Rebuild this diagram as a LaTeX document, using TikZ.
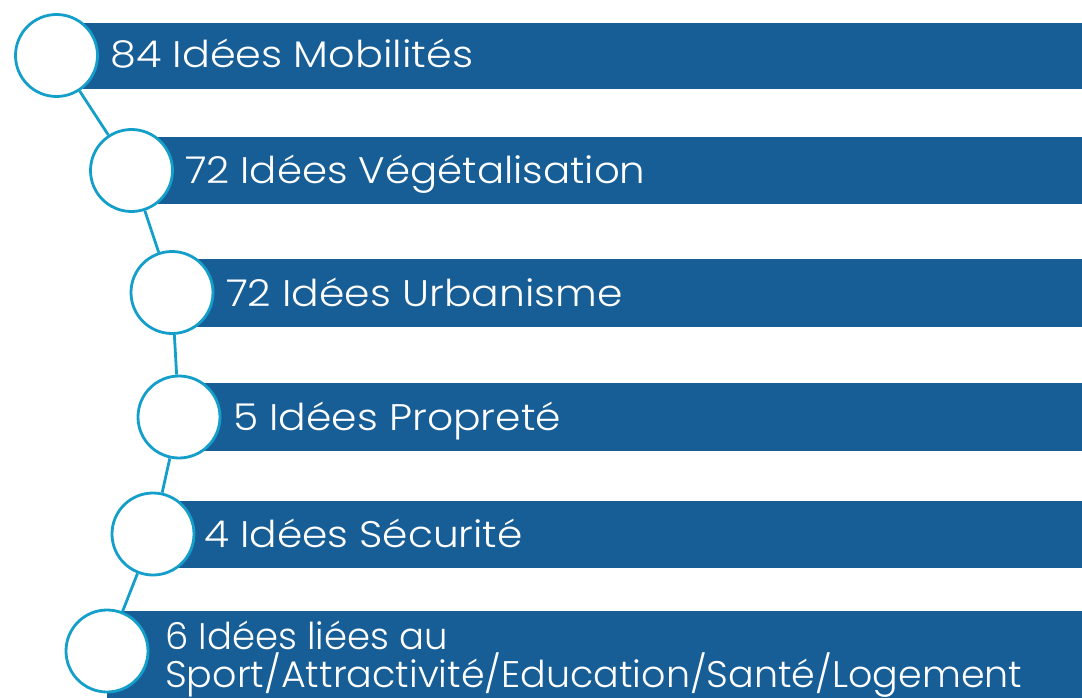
\documentclass[tikz,border=0pt]{standalone}
\usepackage{fontspec}
\setmainfont{Poppins}[UprightFont=* Light]
\definecolor{barblue}{RGB}{24,94,150}
\definecolor{ringcyan}{RGB}{20,158,202}
\begin{document}
\begin{tikzpicture}[x=1pt,y=-1pt,
  bar/.style={fill=barblue,draw=none},
  ring/.style={circle,draw=ringcyan,fill=white,line width=2.8pt,minimum size=82pt,inner sep=0pt},
  link/.style={draw=ringcyan,line width=2.8pt},
  lbl/.style={anchor=base west,text=white,font=\fontsize{37}{38}\selectfont,inner sep=0pt}]
\useasboundingbox (0,0) rectangle (1082,698);
% bars
\fill[bar] (56,22.7) rectangle (1082,89);
\fill[bar] (131,137) rectangle (1082,204);
\fill[bar] (172,259) rectangle (1082,327);
\fill[bar] (179,383) rectangle (1082,451);
\fill[bar] (153,501) rectangle (1082,568);
\fill[bar] (107,611) rectangle (1082,698);
% circles
\node[ring] (c1) at (56.5,55.5) {};
\node[ring] (c2) at (131.5,170.5) {};
\node[ring] (c3) at (172,292.5) {};
\node[ring] (c4) at (179,417) {};
\node[ring] (c5) at (153,534) {};
\node[ring] (c6) at (107,651) {};
% links
\draw[link] (c1) -- (c2);
\draw[link] (c2) -- (c3);
\draw[link] (c3) -- (c4);
\draw[link] (c4) -- (c5);
\draw[link] (c5) -- (c6);
% labels
\node[lbl] (t1) at (110,68) {\scalebox{1.118}[1]{84 Idées Mobilités}};
\node[lbl] (t2) at (185,183) {\scalebox{1.089}[1]{72 Idées Végétalisation}};
\node[lbl] (t3) at (226,306) {\scalebox{1.104}[1]{72 Idées Urbanisme}};
\node[lbl] (t4) at (233,430) {\scalebox{1.104}[1]{5 Idées Propreté}};
\node[lbl] (t5) at (204,547) {\scalebox{1.10}[1]{4 Idées Sécurité}};
\node[lbl] (t6a) at (165,649) {6 Idées liées au};
\node[lbl] (t6b) at (165,687) {\scalebox{1.028}[1]{Sport/Attractivité/Education/Santé/Logement}};
\end{tikzpicture}
\end{document}
